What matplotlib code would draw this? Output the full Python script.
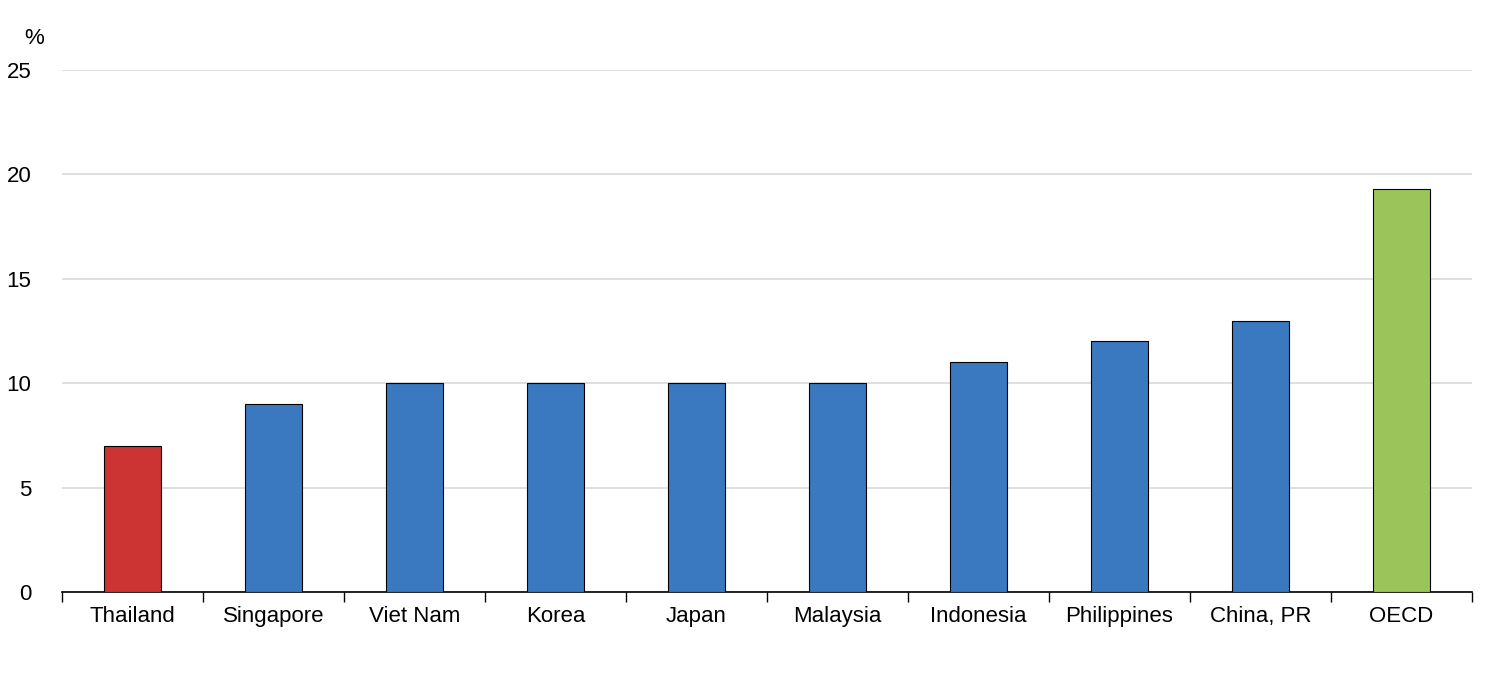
import matplotlib
matplotlib.use("Agg")
import matplotlib.pyplot as plt
import numpy as np

categories = ["Thailand", "Singapore", "Viet Nam", "Korea", "Japan", "Malaysia",
              "Indonesia", "Philippines", "China, PR", "OECD"]
values = [7, 9, 10, 10, 10, 10, 11, 12, 13, 19.3]
colors = ["#CC3333"] + ["#3A78C0"] * 8 + ["#9BC45A"]

plt.rcParams['font.family'] = ['Liberation Sans', 'DejaVu Sans']
fig = plt.figure(figsize=(15.06, 6.78), dpi=100)
ax = fig.add_axes([62/1506, 1-592/678, (1472-62)/1506, (592-70)/678])
x = np.arange(len(categories))
ax.bar(x, values, width=0.4, color=colors, edgecolor="black", linewidth=0.8, zorder=3)
ax.set_xlim(-0.5, len(categories) - 0.5)
ax.set_ylim(0, 25)
ax.set_yticks([0, 5, 10, 15, 20, 25])
ax.yaxis.grid(True, color="#d9d9d9", linewidth=1.2, zorder=0)
ax.set_xticks(x)
ax.set_xticklabels(categories, fontsize=16)
ax.set_xticks(np.arange(len(categories) + 1) - 0.5, minor=True)
ax.tick_params(axis='x', which='major', length=0, pad=10)
ax.tick_params(axis='x', which='minor', length=7, direction='out', width=1)
ax.tick_params(axis='y', length=0, labelsize=16, pad=22)
for s in ["top", "right", "left"]:
    ax.spines[s].set_visible(False)
ax.spines["bottom"].set_linewidth(1.2)
fig.text(24/1506, 1-38/678, "%", fontsize=16, va="center")
fig.savefig("out.png", dpi=100)
